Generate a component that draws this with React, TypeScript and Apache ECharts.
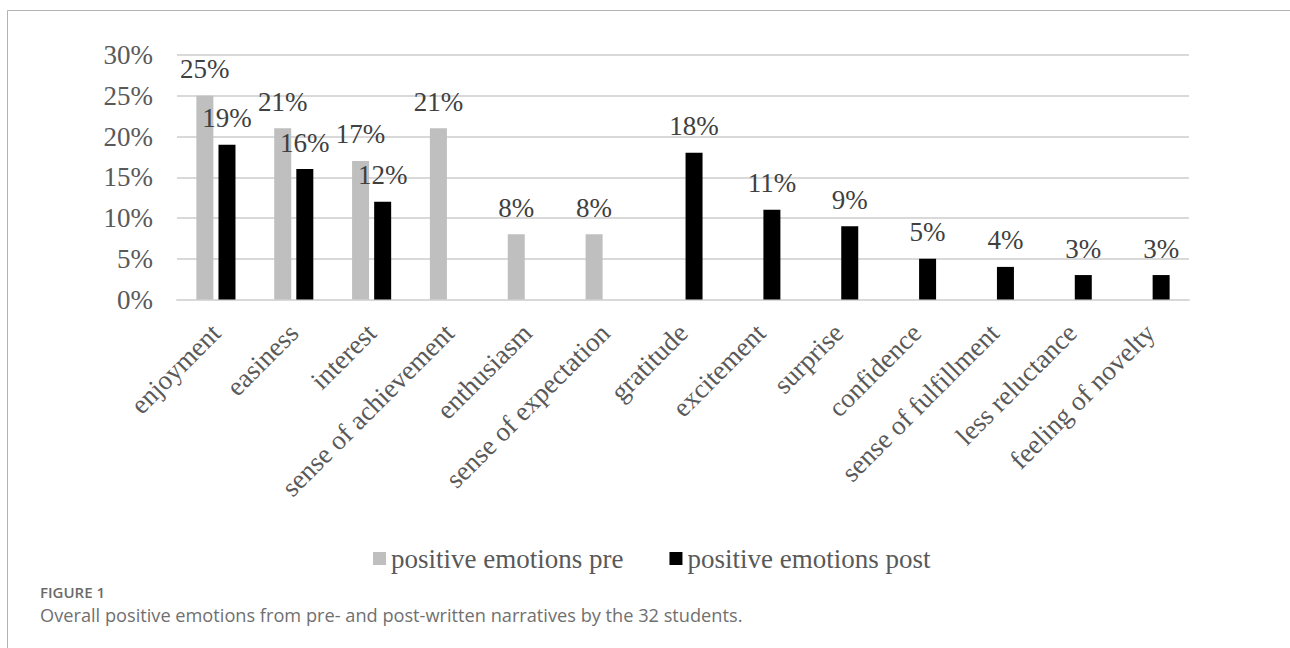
import React, { useEffect, useRef } from "react";
import * as echarts from "echarts";

const categories = [
  "enjoyment",
  "easiness",
  "interest",
  "sense of achievement",
  "enthusiasm",
  "sense of expectation",
  "gratitude",
  "excitement",
  "surprise",
  "confidence",
  "sense of fulfillment",
  "less reluctance",
  "feeling of novelty",
];
const preValues = [25, 21, 17, 21, 8, 8, null, null, null, null, null, null, null];
const postValues = [19, 16, 12, null, null, null, 18, 11, 9, 5, 4, 3, 3];
const seriesNames = ["positive emotions pre", "positive emotions post"];
const yTicks = { min: 0, max: 30, interval: 5 };
const figureLabel = "FIGURE 1";
const captionText =
  "Overall positive emotions from pre- and post-written narratives by the 32 students.";

const SERIF = "Liberation Serif";
const SANS = "Open Sans";

// offsets of the two bars from the category centre (barWidth 17, gap 30%)
const barOffsets = [-11.05, 11.05];

export default function App() {
  const ref = useRef<HTMLDivElement>(null);
  useEffect(() => {
    if (!ref.current) return;
    const chart = echarts.init(ref.current, undefined, { renderer: "svg" });
    const labelSeries = (values: (number | null)[], idx: number) => ({
      type: "custom",
      name: "label" + idx,
      silent: true,
      z: 5,
      data: values.map((v, i) => [i, v === null ? "-" : v]),
      encode: { x: 0, y: 1 },
      renderItem: (params: any, api: any) => {
        const v = api.value(1);
        if (v === "-" || v === null || isNaN(v)) return null;
        const p = api.coord([api.value(0), v]);
        return {
          type: "text",
          x: p[0] + barOffsets[idx],
          y: p[1] - 13,
          style: {
            text: v + "%",
            fontFamily: SERIF,
            fontSize: 27,
            fill: "#404040",
            align: "center",
            verticalAlign: "bottom",
          },
        };
      },
    });
    chart.setOption({
      animation: false,
      backgroundColor: "#ffffff",
      textStyle: { fontFamily: SERIF },
      grid: { left: 177, right: 101, top: 55, bottom: 348.5, containLabel: false },
      xAxis: {
        type: "category",
        data: categories,
        axisLine: { show: true, lineStyle: { color: "#d9d9d9", width: 2 } },
        axisTick: { show: false },
        axisLabel: {
          rotate: 45,
          interval: 0,
          margin: 29,
          fontFamily: SERIF,
          fontSize: 27,
          color: "#595959",
        },
      },
      yAxis: {
        type: "value",
        min: yTicks.min,
        max: yTicks.max,
        interval: yTicks.interval,
        axisLine: { show: false },
        axisTick: { show: false },
        splitLine: { lineStyle: { color: "#d9d9d9", width: 2 } },
        axisLabel: {
          formatter: "{value}%",
          margin: 24,
          fontFamily: SERIF,
          fontSize: 27,
          color: "#595959",
        },
      },
      legend: {
        left: 368,
        top: 540,
        itemWidth: 13,
        itemHeight: 13,
        itemGap: 46,
        icon: "rect",
        textStyle: { fontFamily: SERIF, fontSize: 27, color: "#595959" },
        data: seriesNames,
      },
      series: [
        {
          name: seriesNames[0],
          type: "bar",
          data: preValues.map((v) => (v === null ? "-" : v)),
          barWidth: 17,
          barGap: "30%",
          itemStyle: { color: "#bfbfbf" },
        },
        {
          name: seriesNames[1],
          type: "bar",
          data: postValues.map((v) => (v === null ? "-" : v)),
          barWidth: 17,
          barGap: "30%",
          itemStyle: { color: "#000000" },
        },
        labelSeries(preValues, 0),
        labelSeries(postValues, 1),
      ],
      graphic: [
        {
          type: "rect",
          shape: { x: 7.5, y: 10.5, width: 1400, height: 1000 },
          style: { fill: "none", stroke: "#b3b3b3", lineWidth: 1 },
          silent: true,
        },
        {
          type: "text",
          left: 40,
          top: 584,
          style: {
            text: figureLabel,
            fontFamily: SANS,
            fontWeight: 600,
            fontSize: 15,
            fill: "#6b6b6b",
          },
        },
        {
          type: "text",
          left: 40,
          top: 606,
          style: {
            text: captionText,
            fontFamily: SANS,
            fontWeight: 400,
            fontSize: 18.2,
            fill: "#707070",
          },
        },
      ],
    });
    return () => chart.dispose();
  }, []);
  return (
    <div
      ref={ref}
      style={{ position: "fixed", left: 0, top: 0, width: 1290, height: 648, background: "#fff" }}
    />
  );
}
